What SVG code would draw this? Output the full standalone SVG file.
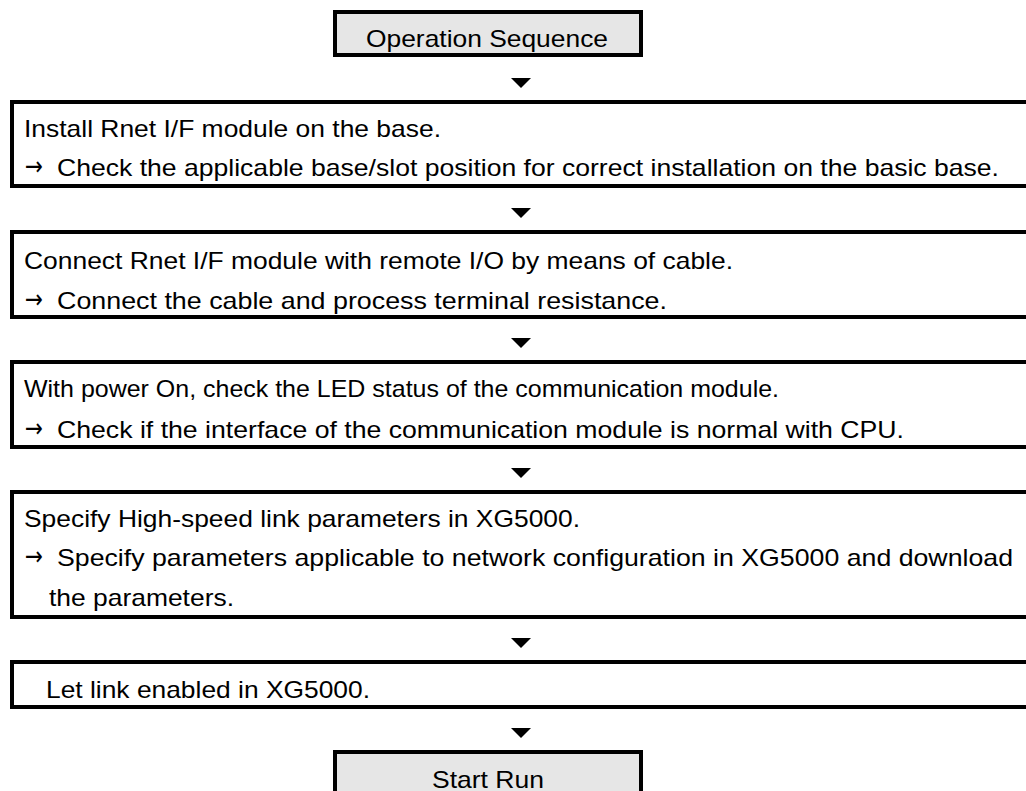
<svg xmlns="http://www.w3.org/2000/svg" width="1026" height="791" viewBox="0 0 1026 791">
  <style>
    .step { fill: #ffffff; stroke: #000000; stroke-width: 4; }
    .term { fill: #e6e6e6; stroke: #000000; stroke-width: 4; }
    .txt { font-family: "Liberation Sans", Arial, sans-serif; font-size: 24px; fill: #000000; }
    .bullet { font-family: "DejaVu Sans", sans-serif; font-size: 26px; fill: #000000; }
    .head { fill: #000000; stroke: none; }
  </style>

  <!-- flow arrows between the steps -->
  <g id="connectors">
    <path class="head" d="M511,78 L531,78 L521,88 Z"/>
    <path class="head" d="M511,208 L531,208 L521,218 Z"/>
    <path class="head" d="M511,338 L531,338 L521,348 Z"/>
    <path class="head" d="M511,468 L531,468 L521,478 Z"/>
    <path class="head" d="M511,638 L531,638 L521,648 Z"/>
    <path class="head" d="M511,728 L531,728 L521,738 Z"/>
  </g>

  <g id="start">
    <rect class="term" x="335" y="12" width="306" height="43"/>
    <text class="txt" x="366" y="47" textLength="242" lengthAdjust="spacingAndGlyphs">Operation Sequence</text>
  </g>

  <g id="step-install">
    <rect class="step" x="12" y="102" width="1030" height="84"/>
    <text class="txt" x="24" y="137" textLength="417" lengthAdjust="spacingAndGlyphs">Install Rnet I/F module on the base.</text>
    <text class="bullet" x="25" y="175" textLength="18" lengthAdjust="spacingAndGlyphs">→</text>
    <text class="txt" x="57" y="176" textLength="942" lengthAdjust="spacingAndGlyphs">Check the applicable base/slot position for correct installation on the basic base.</text>
  </g>

  <g id="step-cable">
    <rect class="step" x="12" y="232" width="1030" height="85"/>
    <text class="txt" x="24" y="269" textLength="709" lengthAdjust="spacingAndGlyphs">Connect Rnet I/F module with remote I/O by means of cable.</text>
    <text class="bullet" x="25" y="308" textLength="18" lengthAdjust="spacingAndGlyphs">→</text>
    <text class="txt" x="57" y="309" textLength="610" lengthAdjust="spacingAndGlyphs">Connect the cable and process terminal resistance.</text>
  </g>

  <g id="step-power">
    <rect class="step" x="12" y="362" width="1030" height="85"/>
    <text class="txt" x="24" y="397" textLength="755" lengthAdjust="spacingAndGlyphs">With power On, check the LED status of the communication module.</text>
    <text class="bullet" x="25" y="437" textLength="18" lengthAdjust="spacingAndGlyphs">→</text>
    <text class="txt" x="57" y="438" textLength="847" lengthAdjust="spacingAndGlyphs">Check if the interface of the communication module is normal with CPU.</text>
  </g>

  <g id="step-params">
    <rect class="step" x="12" y="492" width="1030" height="125"/>
    <text class="txt" x="24" y="527" textLength="556" lengthAdjust="spacingAndGlyphs">Specify High-speed link parameters in XG5000.</text>
    <text class="bullet" x="25" y="565" textLength="18" lengthAdjust="spacingAndGlyphs">→</text>
    <text class="txt" x="57" y="566" textLength="956" lengthAdjust="spacingAndGlyphs">Specify parameters applicable to network configuration in XG5000 and download</text>
    <text class="txt" x="49" y="606" textLength="185" lengthAdjust="spacingAndGlyphs">the parameters.</text>
  </g>

  <g id="step-link">
    <rect class="step" x="12" y="662" width="1030" height="45"/>
    <text class="txt" x="46" y="698" textLength="324" lengthAdjust="spacingAndGlyphs">Let link enabled in XG5000.</text>
  </g>

  <g id="run">
    <rect class="term" x="335" y="752" width="306" height="60"/>
    <text class="txt" x="432" y="788" textLength="112" lengthAdjust="spacingAndGlyphs">Start Run</text>
  </g>
</svg>
